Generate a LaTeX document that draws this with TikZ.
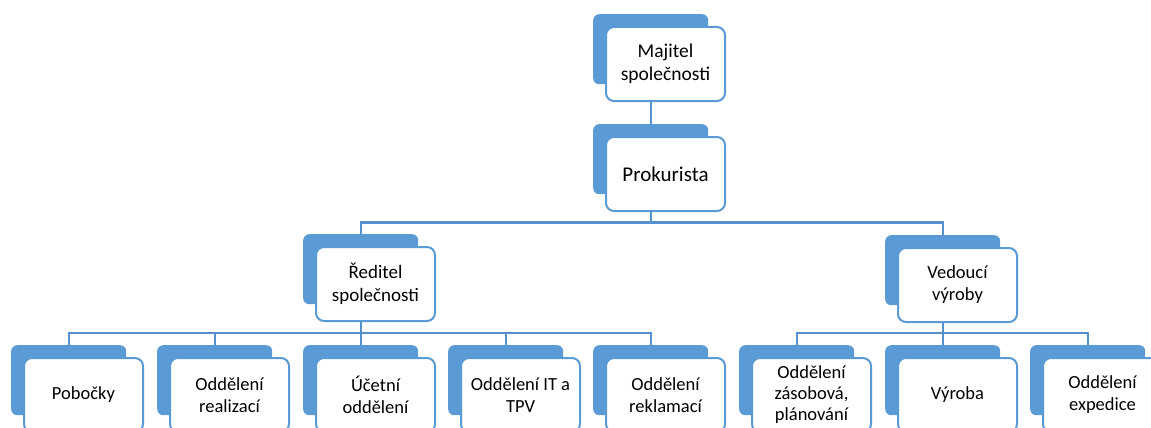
\documentclass[tikz,border=0pt]{standalone}
\usepackage{fontspec}
\setmainfont{Carlito}
\definecolor{obl}{HTML}{5B9BD5}
\definecolor{lnc}{HTML}{5590CC}
\tikzset{
  backbox/.style={rectangle, fill=obl, rounded corners=6pt, minimum width=115pt, minimum height=70pt, inner sep=0pt, anchor=north west},
  frontbox/.style={rectangle, fill=white, draw=obl, line width=2pt, rounded corners=8pt, minimum width=119pt, minimum height=74pt, inner sep=0pt, anchor=north west, align=center, text=black},
  conn/.style={draw=lnc, line width=2.2pt},
}
\newcommand\orgbox[5]{%
  \node[backbox] (#1b) at (#2,#3) {};
  \node[frontbox, font=#5] (#1) at (#2+12,#3+12) {#4};
}
\begin{document}
\begin{tikzpicture}[x=1pt,y=-1pt]
\useasboundingbox (0,0) rectangle (1151,428);
\clip (0,0) rectangle (1151,428);
% top levels
\orgbox{maj}{593}{14}{Majitel\\společnosti}{\fontsize{19.5}{23}\selectfont}
\orgbox{prok}{593}{124}{Prokurista}{\fontsize{21}{25}\selectfont}
\orgbox{red}{303}{234}{Ředitel\\společnosti}{\fontsize{19}{23}\selectfont}
\orgbox{ved}{885}{235}{Vedoucí\\výroby}{\fontsize{18.5}{22}\selectfont}
% bottom level
\orgbox{pob}{11}{345}{Pobočky}{\fontsize{18.5}{22}\selectfont}
\orgbox{rea}{157}{345}{Oddělení\\realizací}{\fontsize{18.5}{22}\selectfont}
\orgbox{uce}{303}{345}{Účetní\\oddělení}{\fontsize{18.5}{22}\selectfont}
\orgbox{itt}{448}{345}{Oddělení IT a\\TPV}{\fontsize{18.5}{22}\selectfont}
\orgbox{rek}{593}{345}{Oddělení\\reklamací}{\fontsize{18.5}{22}\selectfont}
\orgbox{zas}{739}{345}{Oddělení\\zásobová,\\plánování}{\fontsize{18.5}{21}\selectfont}
\orgbox{vyr}{885}{345}{Výroba}{\fontsize{18.5}{22}\selectfont}
\orgbox{exp}{1030}{345}{Oddělení\\expedice}{\fontsize{18.5}{22}\selectfont}
% connectors
\draw[conn] (majb.south |- maj.south) -- (prokb.north);
\draw[conn] (prokb.south |- prok.south) -- ++(0,10.5) -| (redb.north);
\draw[conn] (prokb.south |- prok.south) -- ++(0,10.5) -| (vedb.north);
\foreach \c in {pob,rea,uce,itt,rek}{
  \draw[conn] (redb.south |- red.south) -- ++(0,11) -| (\c b.north);
}
\foreach \c in {zas,vyr,exp}{
  \draw[conn] (vedb.south |- ved.south) -- ++(0,10) -| (\c b.north);
}
\end{tikzpicture}
\end{document}
